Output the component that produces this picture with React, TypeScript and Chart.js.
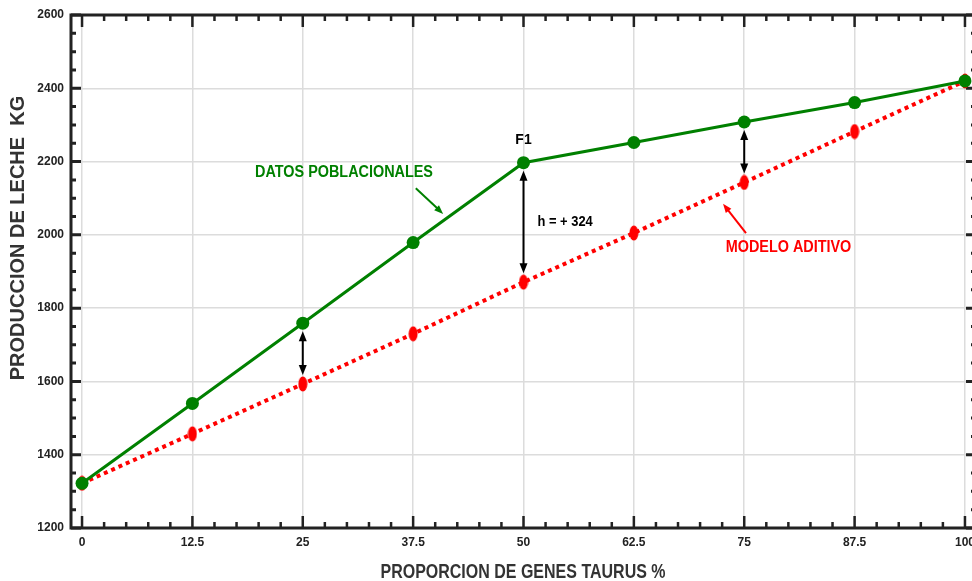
import React, { useEffect, useRef } from "react";
import { Chart, registerables } from "chart.js";

Chart.register(...registerables);

const xValues = [0, 12.5, 25, 37.5, 50, 62.5, 75, 87.5, 100];
const poblacional = [1322, 1540, 1759, 1979, 2197, 2252, 2308, 2361, 2420];
const aditivo = [1322, 1457, 1593, 1730, 1871, 2005, 2143, 2282, 2420];
const xTicks = [0, 12.5, 25, 37.5, 50, 62.5, 75, 87.5, 100];
const arrowAt = [25, 50, 75];

const FONT = '"Liberation Sans", Arial, sans-serif';
const GREEN = "#008000";
const RED = "#ff0000";
const DARK = "#222222";

function makeEllipse(): HTMLCanvasElement {
  const c = document.createElement("canvas");
  c.width = 10;
  c.height = 16;
  const ctx = c.getContext("2d")!;
  ctx.fillStyle = RED;
  ctx.beginPath();
  ctx.ellipse(5, 8, 4.5, 7.5, 0, 0, Math.PI * 2);
  ctx.fill();
  return c;
}

function arrowHead(ctx: CanvasRenderingContext2D, x: number, y: number, dx: number, dy: number, len: number, hw: number) {
  const l = Math.hypot(dx, dy);
  const ux = dx / l, uy = dy / l;
  const bx = x - ux * len, by = y - uy * len;
  ctx.beginPath();
  ctx.moveTo(x, y);
  ctx.lineTo(bx - uy * hw, by + ux * hw);
  ctx.lineTo(bx + uy * hw, by - ux * hw);
  ctx.closePath();
  ctx.fill();
}

function text(ctx: CanvasRenderingContext2D, s: string, x: number, y: number, size: number, sx: number, align: CanvasTextAlign, color: string, rot = 0) {
  ctx.save();
  ctx.translate(x, y);
  if (rot) ctx.rotate(rot);
  ctx.scale(sx, 1);
  ctx.font = `bold ${size}px ${FONT}`;
  ctx.textAlign = align;
  ctx.textBaseline = "middle";
  ctx.fillStyle = color;
  ctx.fillText(s, 0, 0);
  ctx.restore();
}

const framePlugin = {
  id: "frame",
  beforeDatasetsDraw(chart: any) {
    const { ctx, chartArea: a, scales } = chart;
    const xs = scales.x, ys = scales.y;
    ctx.save();
    ctx.strokeStyle = DARK;
    ctx.lineCap = "butt";
    ctx.lineWidth = 2.5;
    for (let v = 0; v <= 100.001; v += 2.5) {
      const px = xs.getPixelForValue(v);
      const major = Math.abs(v / 12.5 - Math.round(v / 12.5)) < 1e-6;
      const len = major ? 12 : 6;
      ctx.beginPath();
      ctx.moveTo(px, a.bottom);
      ctx.lineTo(px, a.bottom - len);
      ctx.moveTo(px, a.top);
      ctx.lineTo(px, a.top + len);
      ctx.stroke();
    }
    ctx.lineWidth = 3;
    for (let v = 1200; v <= 2600; v += 50) {
      const py = ys.getPixelForValue(v);
      const major = v % 200 === 0;
      const len = major ? 10 : 5;
      ctx.beginPath();
      ctx.moveTo(a.left, py);
      ctx.lineTo(a.left + len, py);
      ctx.moveTo(a.right, py);
      ctx.lineTo(a.right - len, py);
      ctx.stroke();
    }
    ctx.lineWidth = 3;
    ctx.beginPath();
    ctx.moveTo(a.left, a.top);
    ctx.lineTo(a.left, a.bottom);
    ctx.lineTo(a.right, a.bottom);
    ctx.lineTo(a.right, a.top);
    ctx.closePath();
    ctx.stroke();

    text(ctx, "PROPORCION DE GENES TAURUS %", 523, 572, 20, 0.8, "center", "#333333");
    text(ctx, "PRODUCCION DE LECHE  KG", 18, 238, 20, 1.0, "center", "#333333", -Math.PI / 2);
    ctx.restore();
  },
  afterDatasetsDraw(chart: any) {
    const { ctx, scales } = chart;
    const xs = scales.x, ys = scales.y;
    ctx.save();
    ctx.strokeStyle = "#000";
    ctx.fillStyle = "#000";
    ctx.lineWidth = 2;
    arrowAt.forEach((xv) => {
      const i = xValues.indexOf(xv);
      const px = xs.getPixelForValue(xv);
      const top = ys.getPixelForValue(poblacional[i]) + 8;
      const bot = ys.getPixelForValue(aditivo[i]) - 9;
      ctx.beginPath();
      ctx.moveTo(px, top + 6);
      ctx.lineTo(px, bot - 6);
      ctx.stroke();
      arrowHead(ctx, px, top, 0, -1, 10, 4);
      arrowHead(ctx, px, bot, 0, 1, 10, 4);
    });

    const f1x = xs.getPixelForValue(50);
    const f1y = ys.getPixelForValue(poblacional[4]);
    text(ctx, "F1", f1x, f1y - 23, 15.5, 0.9, "center", "#000");
    text(ctx, "h = + 324", f1x + 14, ys.getPixelForValue(2034), 14.5, 0.89, "left", "#000");

    text(ctx, "DATOS POBLACIONALES", xs.getPixelForValue(19.6), ys.getPixelForValue(2171), 16, 0.9, "left", GREEN);
    ctx.strokeStyle = GREEN;
    ctx.fillStyle = GREEN;
    {
      const x1 = xs.getPixelForValue(37.8), y1 = ys.getPixelForValue(2127);
      const x2 = xs.getPixelForValue(40.9), y2 = ys.getPixelForValue(2057);
      ctx.lineWidth = 2;
      ctx.beginPath();
      ctx.moveTo(x1, y1);
      ctx.lineTo(x2 - 4, y2 - 4);
      ctx.stroke();
      arrowHead(ctx, x2, y2, x2 - x1, y2 - y1, 9, 3.5);
    }

    text(ctx, "MODELO ADITIVO", xs.getPixelForValue(72.9), ys.getPixelForValue(1964), 16, 0.9, "left", RED);
    ctx.strokeStyle = RED;
    ctx.fillStyle = RED;
    {
      const x1 = xs.getPixelForValue(75.2), y1 = ys.getPixelForValue(2005);
      const x2 = xs.getPixelForValue(72.6), y2 = ys.getPixelForValue(2085);
      ctx.lineWidth = 2;
      ctx.beginPath();
      ctx.moveTo(x1, y1);
      ctx.lineTo(x2 + 3, y2 + 4);
      ctx.stroke();
      arrowHead(ctx, x2, y2, x2 - x1, y2 - y1, 9, 3.5);
    }
    ctx.restore();
  },
};

export default function App() {
  const ref = useRef<HTMLCanvasElement | null>(null);

  useEffect(() => {
    const canvas = ref.current!;
    const ellipse = makeEllipse();
    const chart = new Chart(canvas, {
      type: "line",
      data: {
        datasets: [
          {
            label: "DATOS POBLACIONALES",
            data: xValues.map((x, i) => ({ x, y: poblacional[i] })),
            borderColor: GREEN,
            backgroundColor: GREEN,
            borderWidth: 3,
            pointRadius: 6.5,
            pointStyle: "circle",
            pointBorderWidth: 0,
            clip: false as any,
          },
          {
            label: "MODELO ADITIVO",
            data: xValues.map((x, i) => ({ x, y: aditivo[i] })),
            borderColor: RED,
            backgroundColor: RED,
            borderWidth: 4,
            borderDash: [4, 4],
            borderCapStyle: "butt",
            pointStyle: ellipse as any,
            pointRadius: 7,
            clip: false as any,
          },
        ],
      },
      options: {
        animation: false,
        responsive: false,
        devicePixelRatio: 1,
        layout: { padding: { left: 0, top: 15, right: 5, bottom: 0 } },
        plugins: { legend: { display: false }, tooltip: { enabled: false } },
        scales: {
          x: {
            type: "linear",
            min: -1.25,
            max: 101.25,
            afterBuildTicks: (scale: any) => {
              scale.ticks = xTicks.map((v) => ({ value: v }));
            },
            afterFit: (scale: any) => {
              scale.height = 53;
            },
            grid: { color: "#dcdcdc", lineWidth: 1.5, drawTicks: false },
            border: { display: false },
            ticks: {
              padding: 7,
              color: DARK,
              font: { family: FONT, size: 12, weight: "bold" },
              callback: (v: any) => String(v),
              maxRotation: 0,
              autoSkip: false,
            },
          },
          y: {
            type: "linear",
            min: 1200,
            max: 2600,
            afterFit: (scale: any) => {
              scale.width = 71;
            },
            grid: { color: "#dcdcdc", lineWidth: 1.5, drawTicks: false },
            border: { display: false },
            ticks: {
              stepSize: 200,
              padding: 7,
              color: DARK,
              font: { family: FONT, size: 12, weight: "bold" },
              callback: (v: any) => String(v),
            },
          },
        },
      },
      plugins: [framePlugin],
    });
    return () => chart.destroy();
  }, []);

  return (
    <div style={{ position: "fixed", left: 0, top: 0, width: 972, height: 581, overflow: "hidden", background: "#fff" }}>
      <canvas ref={ref} width={987} height={581} style={{ width: 987, height: 581, display: "block" }} />
    </div>
  );
}
